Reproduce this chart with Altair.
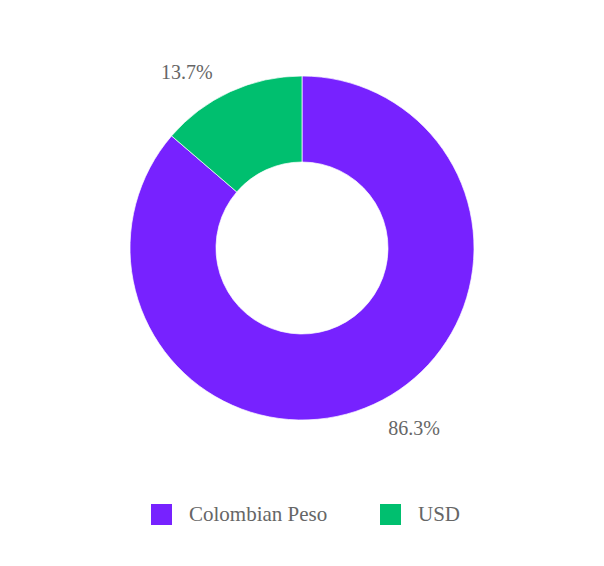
import altair as alt
import pandas as pd

categories = ["Colombian Peso", "USD"]
shares = [86.3, 13.7]
labels = ["86.3%", "13.7%"]
colors = ["#7722FF", "#00BF6F"]

df = pd.DataFrame({"currency": categories, "share": shares, "label": labels,
                   "order": [0, 1]})

CX, CY = 289, 235
FONT = "Times"

base = alt.Chart(df).encode(
    theta=alt.Theta("share:Q", stack=True),
    order=alt.Order("order:Q"),
)

arc = base.mark_arc(outerRadius=172, innerRadius=86, stroke="white", strokeWidth=0.7).encode(
    color=alt.Color(
        "currency:N",
        scale=alt.Scale(domain=categories, range=colors),
        sort=categories,
        legend=alt.Legend(
            title=None,
            orient="none",
            direction="horizontal",
            legendX=138,
            legendY=491,
            symbolType="square",
            symbolSize=441,
            symbolStrokeWidth=0,
            symbolOpacity=1,
            labelFont=FONT,
            labelFontSize=21,
            labelColor="#666666",
            labelOffset=17,
            columnPadding=52,
        ),
    ),
    x=alt.value(CX),
    y=alt.value(CY),
)

txt_left = base.mark_text(radius=190, align="right", baseline="alphabetic", dx=-10, dy=4,
                          font="serif", fontSize=20, color="#666666").encode(
    text="label:N", x=alt.value(CX), y=alt.value(CY),
    opacity=alt.condition(alt.datum.currency == "USD", alt.value(1), alt.value(0)),
)
txt_right = base.mark_text(radius=190, align="left", baseline="alphabetic", dx=7, dy=14,
                           font=FONT, fontSize=20, color="#666666").encode(
    text="label:N", x=alt.value(CX), y=alt.value(CY),
    opacity=alt.condition(alt.datum.currency == "Colombian Peso", alt.value(1), alt.value(0)),
)

chart = alt.layer(arc, txt_left, txt_right).properties(
    width=578, height=540, background="white"
).configure_view(strokeWidth=0)

chart.save("out.html", embed_options={"renderer": "svg", "actions": False})
